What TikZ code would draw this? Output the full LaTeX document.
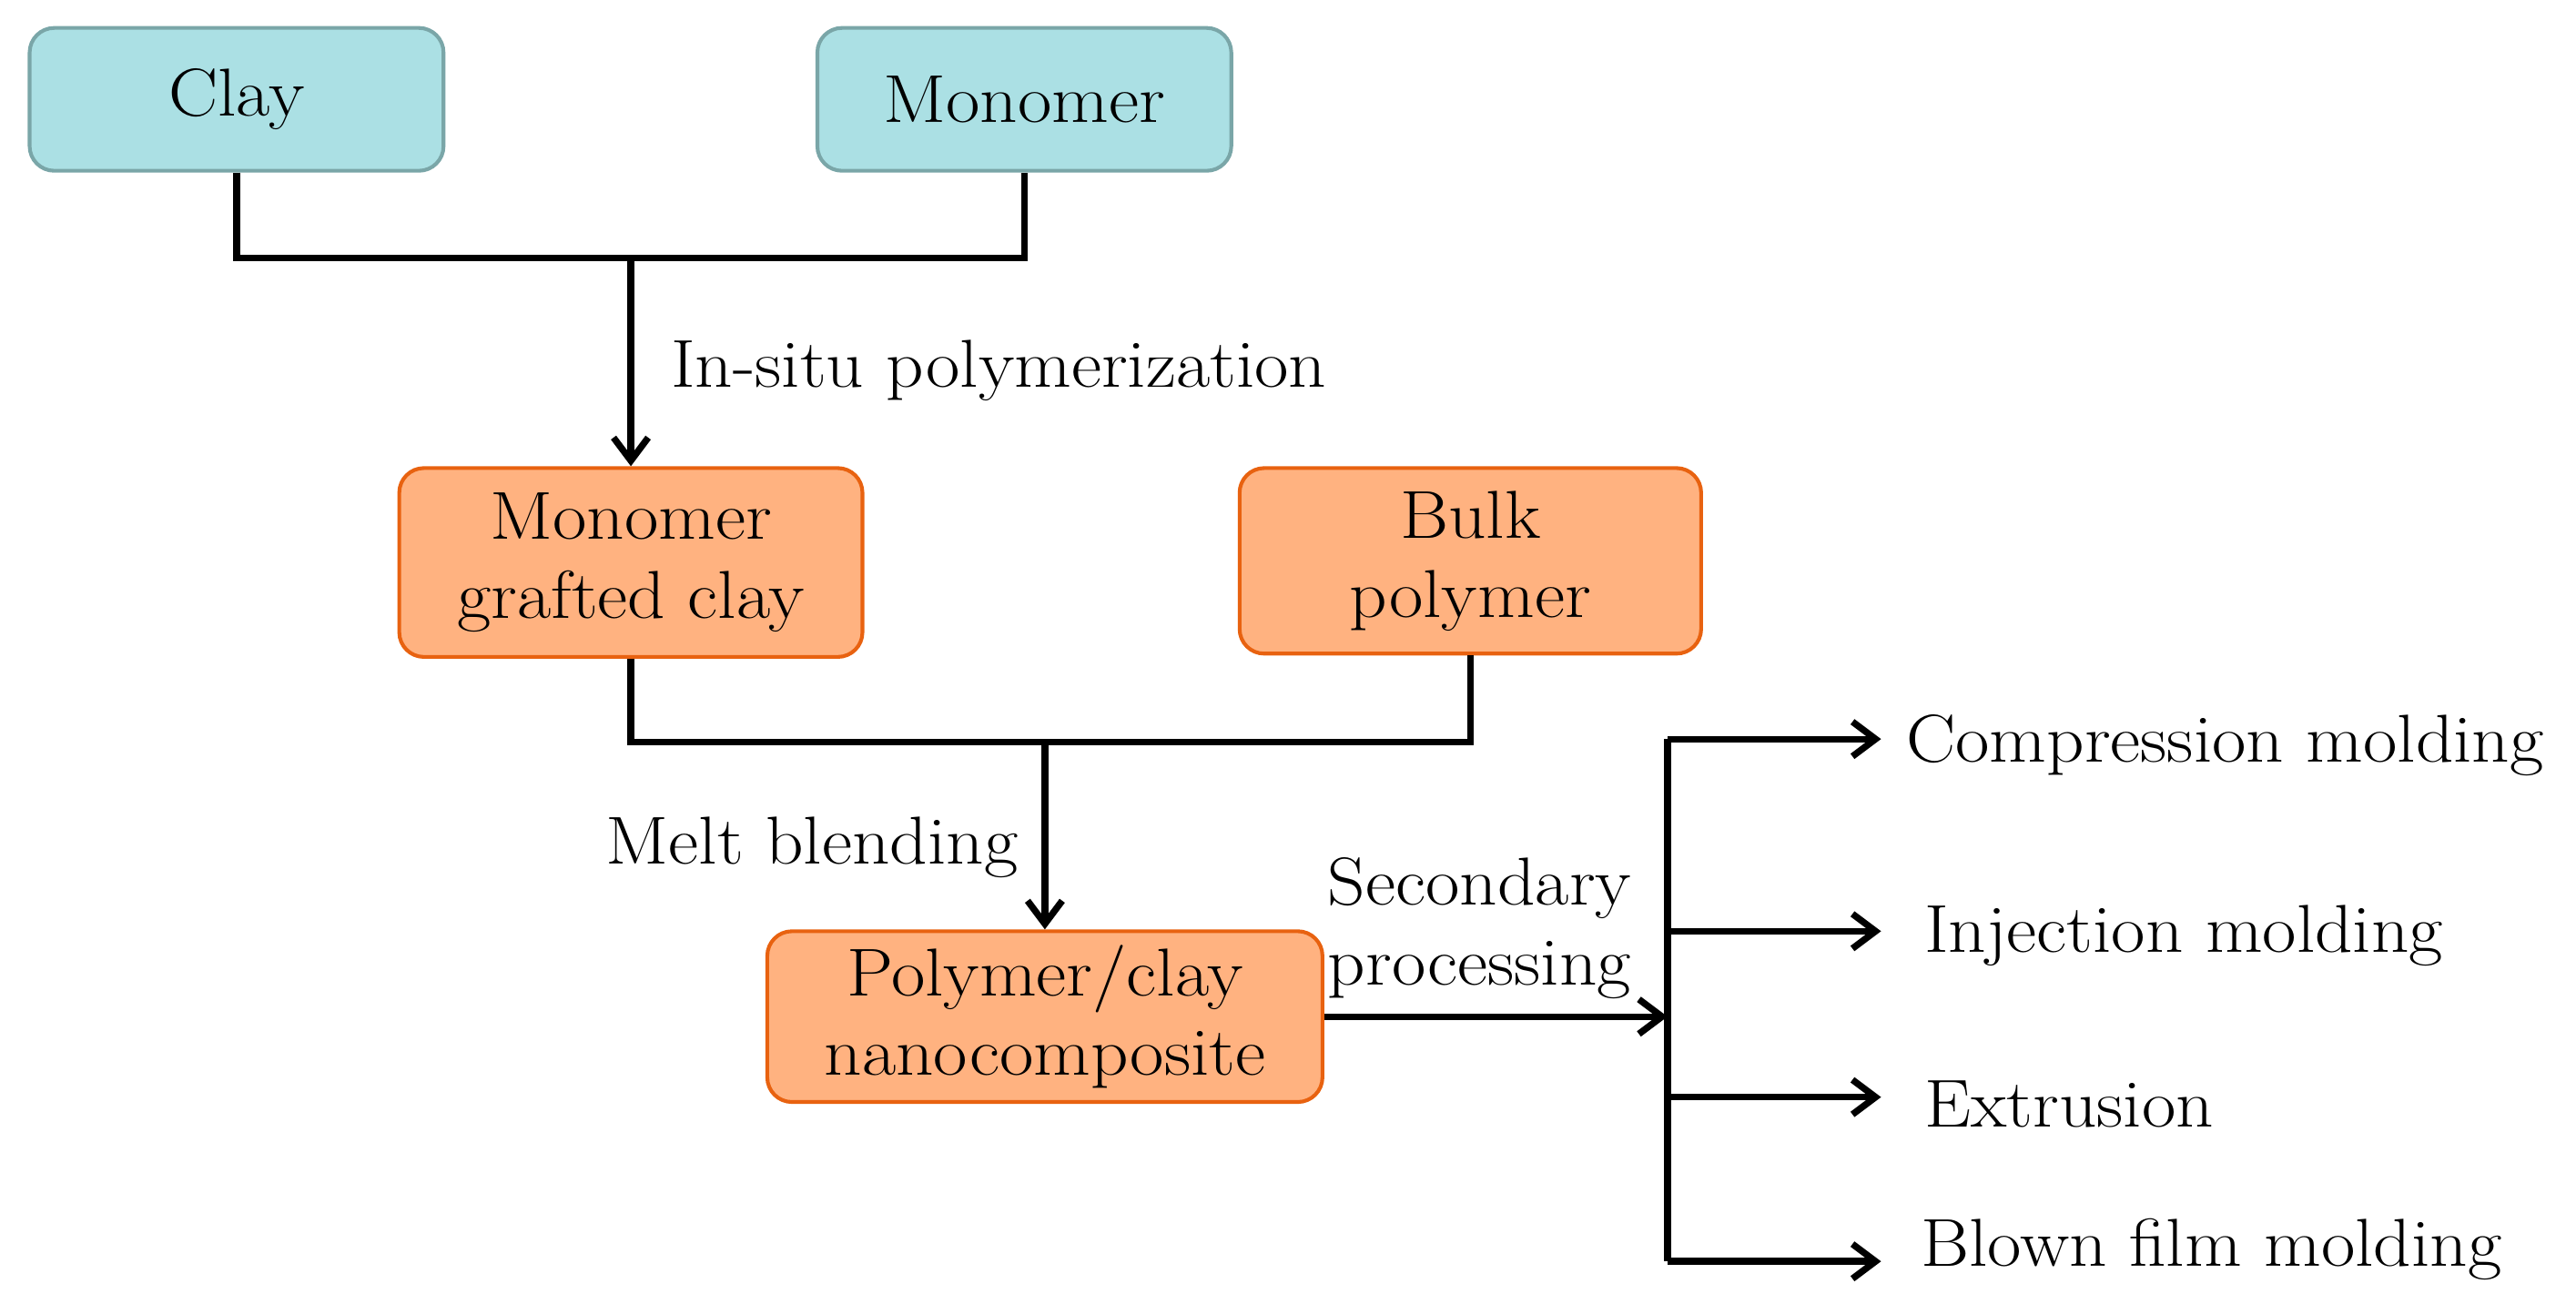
\documentclass[tikz,border=0pt]{standalone}
\usepackage{fontspec}
\setmainfont{Latin Modern Roman}[FakeStretch=1.09]
\usetikzlibrary{arrows.meta}
\definecolor{tealfill}{RGB}{171,224,228}
\definecolor{tealline}{RGB}{122,166,168}
\definecolor{orfill}{RGB}{255,178,128}
\definecolor{orline}{RGB}{232,98,16}
\newcommand\diagfs{\fontsize{23.5}{27.5}\selectfont}
\tikzset{
  tbox/.style={draw=tealline, fill=tealfill, rounded corners=0.3cm, line width=1.3pt,
    minimum width=5.04cm, minimum height=1.74cm, font=\diagfs, align=center},
  obox/.style={draw=orline, fill=orfill, rounded corners=0.3cm, line width=1.3pt,
    font=\diagfs, align=center},
  lbl/.style={inner sep=0pt, font=\diagfs},
  conn/.style={line width=2.3pt, line join=miter},
  arr/.style={-{Straight Barb[length=8pt,width=12pt,line width=2.3pt]}}
}
\begin{document}
\begin{tikzpicture}[x=0.02cm,y=-0.02cm]
\useasboundingbox (0,0) rectangle (1568,800);
% boxes
\node[tbox] (clay) at (144,60.5) {Clay};
\node[tbox] (mono) at (623.5,60.5) {Monomer};
\node[obox, minimum width=5.64cm, minimum height=2.3cm] (mgc) at (384,342.5) {Monomer\\grafted clay};
\node[obox, minimum width=5.62cm, minimum height=2.26cm] (bulk) at (895,341.5) {Bulk\\polymer};
\node[obox, minimum width=6.76cm, minimum height=2.08cm] (pcn) at (636,619) {Polymer/clay\\nanocomposite};
% labels
\node[lbl, anchor=base west] (insitu) at (408,236) {In-situ polymerization};
\node[lbl, anchor=base east] (melt) at (620,526) {Melt blending};
\node[lbl, anchor=north west, align=left] (sec) at (808,522) {Secondary\\processing};
\node[lbl, anchor=base west] (comp) at (1160,464) {Compression molding};
\node[lbl, anchor=base west] (inj) at (1171,580) {Injection molding};
\node[lbl, anchor=base west] (ext) at (1171,686) {Extrusion};
\node[lbl, anchor=base west] (blown) at (1169,771) {Blown film molding};
% junctions
\coordinate (j1) at (384,157);
\coordinate (j2) at (636,452);
\coordinate (t1) at (1015,450);
\coordinate (t2) at (1015,567);
\coordinate (tm) at (1015,619);
\coordinate (t3) at (1015,668);
\coordinate (t4) at (1015,768);
\coordinate (tipx) at (1145,0);
% connectors
\draw[conn] (clay.south) |- (j1) -| (mono.south);
\draw[conn,arr] (j1) -- (mgc.north);
\draw[conn] (mgc.south) |- (j2) -| (bulk.south);
\draw[conn,arr] (j2) -- (pcn.north);
\draw[conn,arr] (pcn.east) -- (tm);
\draw[conn] (t1) -- (t4);
\draw[conn,arr] (t1) -- (t1 -| tipx);
\draw[conn,arr] (t2) -- (t2 -| tipx);
\draw[conn,arr] (t3) -- (t3 -| tipx);
\draw[conn,arr] (t4) -- (t4 -| tipx);
\end{tikzpicture}
\end{document}
